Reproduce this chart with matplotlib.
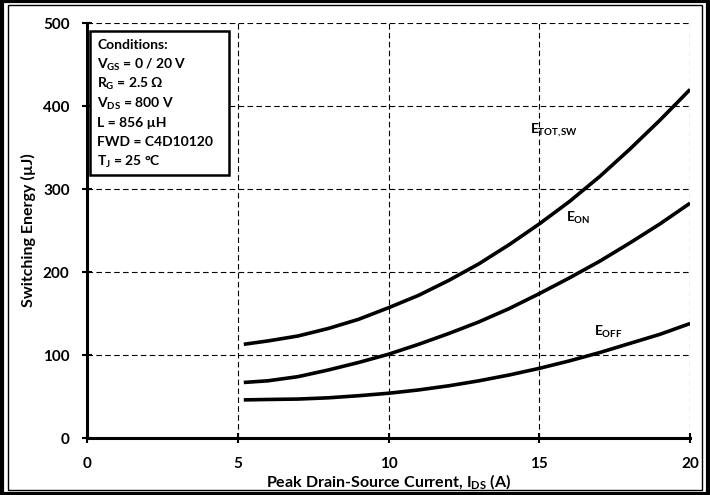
import matplotlib
matplotlib.use("Agg")
import matplotlib.pyplot as plt
from matplotlib.patches import Rectangle

plt.rcParams['font.family'] = ['Lato', 'DejaVu Sans']
plt.rcParams['font.weight'] = 'bold'
plt.rcParams['mathtext.fontset'] = 'custom'
plt.rcParams['mathtext.rm'] = 'Lato:bold'
plt.rcParams['mathtext.it'] = 'Lato:bold'
plt.rcParams['mathtext.bf'] = 'Lato:bold'

ids = [5.2, 6, 7, 8, 9, 10, 11, 12, 13, 14, 15, 16, 17, 18, 19, 20]
e_tot = [113, 117, 123, 132, 143, 157, 172, 190, 210, 233, 258, 285, 315, 348, 383, 420]
e_on = [67, 69, 74, 82, 91, 101, 113, 126, 140, 156, 174, 193, 213, 235, 258, 283]
e_off = [46, 46.5, 47, 48.5, 51, 54, 58, 63, 69, 76, 84, 93, 103, 114, 125, 138]

x_ticks = [0, 5, 10, 15, 20]
y_ticks = [0, 100, 200, 300, 400, 500]

conditions = ["Conditions:",
              r"$V_{GS}$ = 0 / 20 V",
              r"$R_{G}$ = 2.5 Ω",
              r"$V_{DS}$ = 800 V",
              "L = 856 µH",
              "FWD = C4D10120",
              r"$T_{J}$ = 25 °C"]

fig = plt.figure(figsize=(7.1, 4.95), dpi=100)
ax = fig.add_axes([0.1225, 0.115, 0.8495, 0.8385])

ax.plot(ids, e_tot, color='black', lw=2.6, solid_capstyle='butt')
ax.plot(ids, e_on, color='black', lw=2.6, solid_capstyle='butt')
ax.plot(ids, e_off, color='black', lw=2.6, solid_capstyle='butt')

ax.set_xlim(0, 20)
ax.set_ylim(0, 500)
ax.set_xticks(x_ticks)
ax.set_yticks(y_ticks)
ax.grid(True, color='black', linestyle=(0, (5, 3)), linewidth=0.8)
ax.set_axisbelow(True)
for s in ['top', 'right']:
    ax.spines[s].set_visible(False)
for s in ['left', 'bottom']:
    ax.spines[s].set_linewidth(2.2)
ax.tick_params(axis='both', direction='inout', length=7, width=1.5, labelsize=11)
ax.tick_params(axis='x', pad=10)
ax.tick_params(axis='y', pad=9)
for lab in ax.get_xticklabels() + ax.get_yticklabels():
    lab.set_fontweight('bold')

ax.set_xlabel(r"Peak Drain-Source Current, $I_{DS}$ (A)", fontsize=11.5, fontweight='bold', labelpad=1)
ax.set_ylabel("Switching Energy (µJ)", fontsize=11.5, fontweight='bold', labelpad=5)

ax.text(14.7, 371, r"$E_{TOT,\!SW}$", fontsize=10, ha='left', va='center')
ax.text(15.9, 265, r"$E_{ON}$", fontsize=10, ha='left', va='center')
ax.text(16.8, 128, r"$E_{OFF}$", fontsize=10, ha='left', va='center')

# conditions box
box = Rectangle((90 / 710, 1 - 175 / 495), (229 - 90) / 710, (175 - 31) / 495,
                transform=fig.transFigure, facecolor='white', edgecolor='black', lw=1.8, zorder=5)
fig.patches.append(box)
for i, line in enumerate(conditions):
    fig.text(97 / 710, 1 - (45 + i * 19.5) / 495, line, fontsize=10, fontweight='bold',
             ha='left', va='center', zorder=6)

# double frame around figure
fig.patches.append(Rectangle((0.003, 0.003), 0.994, 0.994, transform=fig.transFigure,
                             fill=False, edgecolor='black', lw=3))
fig.patches.append(Rectangle((0.011, 0.011), 0.978, 0.978, transform=fig.transFigure,
                             fill=False, edgecolor='black', lw=1))

fig.savefig("out.png", dpi=100)
